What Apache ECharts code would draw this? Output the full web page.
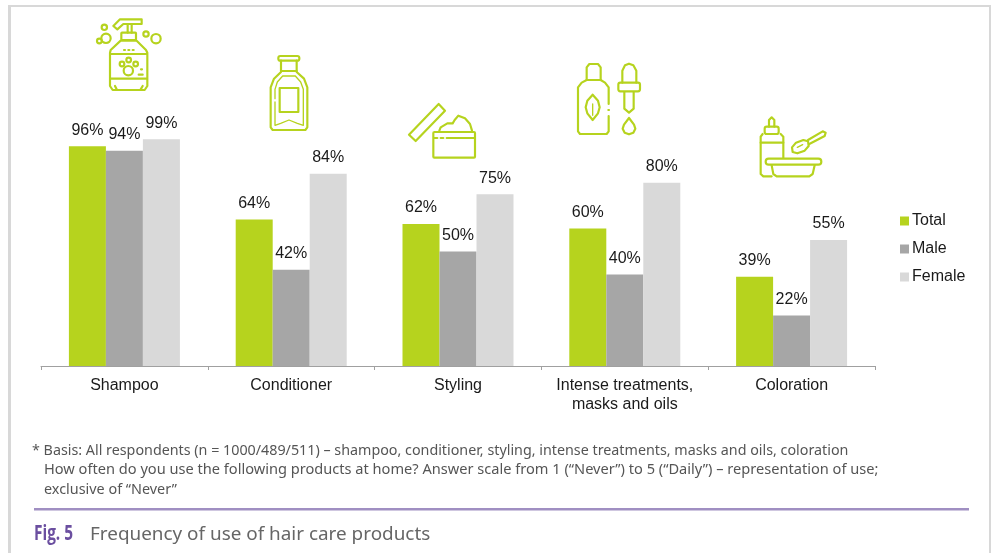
<!DOCTYPE html>
<html>
<head>
<meta charset="utf-8">
<style>html,body{margin:0;padding:0;background:#fff}#chart{width:994px;height:553px}</style>
<script src="https://cdn.jsdelivr.net/npm/echarts@6/dist/echarts.min.js"></script>
</head>
<body>
<div id="chart"></div>
<script>
const categories = ['Shampoo', 'Conditioner', 'Styling', 'Intense treatments,\nmasks and oils', 'Coloration'];
const totalValues = [96, 64, 62, 60, 39];
const maleValues = [94, 42, 50, 40, 22];
const femaleValues = [99, 84, 75, 80, 55];
const footnoteLines = [
  '* Basis: All respondents (n = 1000/489/511) \u2013 shampoo, conditioner, styling, intense treatments, masks and oils, coloration',
  'How often do you use the following products at home? Answer scale from 1 (\u201CNever\u201D) to 5 (\u201CDaily\u201D) \u2013 representation of use;',
  'exclusive of \u201CNever\u201D'
];
const figureTag = 'Fig. 5';
const figureCaption = 'Frequency of use of hair care products';

const GREEN = '#b6d31e', MID = '#a6a6a6', LIGHT = '#d9d9d9', FRAME = '#d8d8d8', PURPLE = '#a08fc2';
const SANS = '"Liberation Sans", Arial, sans-serif';
const NOTE = '"Noto Sans", "Open Sans", sans-serif';

// Outline primitives for the product icons, drawn on a 3x working grid.
const STROKE = 6.5;
const ink = { stroke: GREEN, fill: 'none', lineCap: 'round', lineJoin: 'round' };
const poly = (pts, w) => ({ type: 'polyline', shape: { points: pts }, style: { ...ink, lineWidth: w || STROKE } });
const loop = (pts, w) => ({ type: 'polygon', shape: { points: pts }, style: { ...ink, lineWidth: w || STROKE } });
const ring = (cx, cy, r, w) => ({ type: 'circle', shape: { cx, cy, r }, style: { ...ink, lineWidth: w || STROKE } });
const box = (x, y, width, height, r, w) => ({ type: 'rect', shape: { x, y, width, height, r: r || 0 }, style: { ...ink, lineWidth: w || STROKE } });
const icon = (x, y, children) => ({ type: 'group', x, y, scaleX: 1 / 3, scaleY: 1 / 3, silent: true, children });

const shampooIcon = icon(60, 0, [
  loop([[160, 78], [180, 58], [245, 58], [245, 72], [190, 72], [172, 88]]),
  poly([[203, 74], [203, 98]]), poly([[215, 74], [215, 98]]),
  box(184, 98, 44, 22, 2),
  poly([[182, 122], [152, 150], [150, 158], [150, 258], [158, 270], [254, 270], [262, 258], [262, 158], [258, 150], [230, 122], [182, 122]]),
  poly([[152, 162], [260, 162]]), poly([[152, 236], [260, 236]]),
  poly([[165, 258], [170, 268]]), poly([[248, 258], [242, 268]]),
  poly([[192, 150], [195, 150]]), poly([[205, 150], [208, 150]]), poly([[218, 150], [221, 150]]),
  ring(205, 212, 14), ring(186, 192, 7), ring(206, 180, 7), ring(227, 192, 7),
  poly([[243, 208], [246, 208]]), poly([[236, 224], [248, 224]]),
  ring(133, 82, 8), ring(138, 115, 14), ring(118, 123, 7), ring(258, 102, 8), ring(288, 116, 14)
]);

const conditionerIcon = icon(60, 0, [
  box(655, 168, 63, 14, 6),
  poly([[663, 182], [663, 213]]), poly([[710, 182], [710, 213]]), poly([[663, 213], [710, 213]]),
  poly([[663, 216], [642, 236], [632, 262], [632, 382], [638, 390], [736, 390], [742, 382], [742, 262], [732, 236], [710, 216]]),
  poly([[645, 296], [645, 268], [652, 246], [668, 228], [706, 228], [722, 246], [730, 268], [730, 376], [712, 370], [687, 360], [662, 370], [645, 376], [645, 306]], 4),
  box(659, 264, 56, 72, 0)
]);

const stylingIcon = icon(390, 40, [
  loop([[146, 192], [165, 212], [77, 303], [57, 284]]),
  box(130, 276, 125, 77, 3),
  poly([[132, 294], [142, 294]]), poly([[152, 294], [160, 294]]), poly([[170, 294], [253, 294]]),
  poly([[148, 272], [152, 262], [172, 250], [188, 250], [194, 240], [205, 227], [225, 235], [240, 252], [246, 272]])
]);

const treatmentIcon = icon(390, 40, [
  poly([[590, 120], [590, 82], [598, 72], [624, 72], [632, 82], [632, 120]]),
  poly([[656, 192], [656, 142], [645, 128], [632, 120], [590, 120], [575, 128], [564, 142], [564, 274], [570, 282], [650, 282], [656, 274], [656, 228]]),
  poly([[655, 210], [657, 210]]),
  loop([[608, 164], [592, 182], [587, 202], [592, 220], [608, 240], [624, 220], [629, 202], [624, 182]]),
  poly([[608, 192], [608, 226]], 4),
  poly([[697, 128], [697, 92], [705, 76], [717, 71], [730, 76], [739, 92], [739, 128]]),
  box(685, 128, 65, 26, 6),
  poly([[703, 156], [703, 206], [717, 218], [731, 206], [731, 156]]),
  poly([[717, 234], [702, 254], [698, 266], [704, 278], [717, 283], [730, 278], [736, 266], [732, 254], [717, 234]])
]);

const colorationIcon = icon(390, 40, [
  poly([[1137, 260], [1137, 240], [1145, 232], [1153, 240], [1153, 260]]),
  box(1124, 260, 42, 22, 6),
  poly([[1118, 282], [1112, 290], [1112, 402], [1120, 409], [1145, 409]]),
  poly([[1172, 282], [1180, 290], [1180, 354]]),
  poly([[1112, 308], [1180, 308]]),
  box(1127, 356, 167, 18, 9),
  poly([[1145, 376], [1150, 402], [1160, 409], [1258, 409], [1268, 402], [1274, 376]]),
  loop([[1206, 322], [1218, 308], [1240, 300], [1254, 304], [1256, 318], [1244, 332], [1222, 340], [1208, 336]]),
  poly([[1254, 300], [1298, 274], [1307, 278], [1304, 288], [1258, 312]]),
  poly([[1222, 322], [1238, 314]], 4)
]);

const chart = echarts.init(document.getElementById('chart'), null, { renderer: 'canvas' });

const barSeries = (name, data, color) => ({
  name, type: 'bar', data, barWidth: 37, barGap: 0,
  itemStyle: { color },
  label: {
    show: true, position: 'top', distance: 8, formatter: '{c}%',
    fontFamily: SANS, fontSize: 16, color: '#1a1a1a'
  }
});

const noteText = (x, y, text, size) => ({
  type: 'text', x, y, silent: true,
  style: { text, fontFamily: NOTE, fontSize: size, fill: '#555555', textVerticalAlign: 'middle' }
});

chart.setOption({
  animation: false,
  backgroundColor: '#ffffff',
  grid: { left: 41, right: 119, top: 137, height: 229, containLabel: false },
  legend: {
    orient: 'vertical', left: 895, top: 207,
    itemWidth: 9, itemHeight: 9, itemGap: 10,
    icon: 'rect', selectedMode: false,
    textStyle: { fontFamily: SANS, fontSize: 16, color: '#1a1a1a', padding: [0, 0, 0, -2], height: 18, lineHeight: 18 },
    data: ['Total', 'Male', 'Female']
  },
  xAxis: {
    type: 'category', data: categories,
    axisLine: { lineStyle: { color: '#a0a0a0', width: 1 } },
    axisTick: { show: true, length: 4, lineStyle: { color: '#a0a0a0' } },
    axisLabel: { interval: 0, margin: 10, fontFamily: SANS, fontSize: 16, lineHeight: 19, color: '#1a1a1a' }
  },
  yAxis: { type: 'value', min: 0, max: 100, show: false, splitLine: { show: false } },
  series: [
    barSeries('Total', totalValues, GREEN),
    barSeries('Male', maleValues, MID),
    barSeries('Female', femaleValues, LIGHT)
  ],
  graphic: { elements: [
    { type: 'rect', silent: true, shape: { x: 8, y: 5, width: 982, height: 2 }, style: { fill: FRAME } },
    { type: 'rect', silent: true, shape: { x: 8, y: 5, width: 3, height: 548 }, style: { fill: FRAME } },
    { type: 'rect', silent: true, shape: { x: 989, y: 5, width: 2, height: 548 }, style: { fill: FRAME } },
    shampooIcon, conditionerIcon, stylingIcon, treatmentIcon, colorationIcon,
    noteText(32, 451, footnoteLines[0], 14.3),
    noteText(44, 470, footnoteLines[1], 14.6),
    noteText(44, 490, footnoteLines[2], 14.4),
    { type: 'rect', silent: true, shape: { x: 34, y: 508, width: 935, height: 2.5 }, style: { fill: PURPLE } },
    { type: 'text', x: 34, y: 534, scaleX: 0.7, silent: true, style: { text: figureTag, fontFamily: '"Open Sans", "Noto Sans", sans-serif', fontWeight: 700, fontSize: 22, fill: '#6b4fa0', textVerticalAlign: 'middle' } },
    { type: 'text', x: 90, y: 535, silent: true, style: { text: figureCaption, fontFamily: NOTE, fontSize: 18.9, fill: '#666666', textVerticalAlign: 'middle' } }
  ] }
});
</script>
</body>
</html>
